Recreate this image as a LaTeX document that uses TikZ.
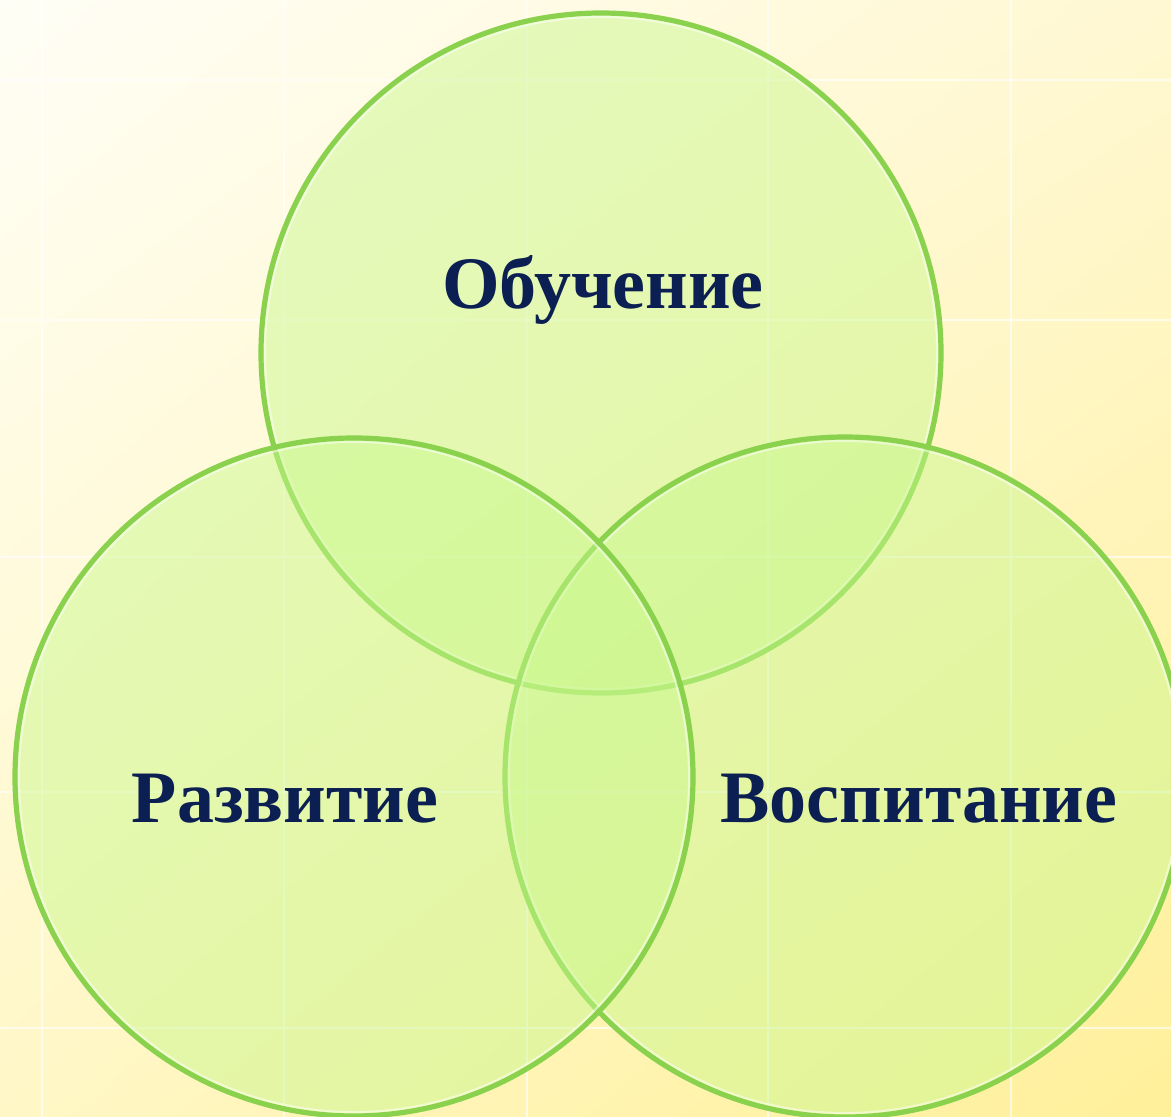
\documentclass[tikz,border=0pt]{standalone}
\usepackage{fontspec}
\setmainfont{Liberation Serif}
\usetikzlibrary{shadings}
\definecolor{bgA}{HTML}{FFFEF6}
\definecolor{bgB}{HTML}{FFF8D2}
\definecolor{bgC}{HTML}{FFF7C6}
\definecolor{bgD}{HTML}{FFF09A}
\definecolor{ringgreen}{HTML}{8AD24E}
\definecolor{fillgreen}{HTML}{C8F88C}
\definecolor{navy}{HTML}{0B1F52}
\begin{document}
\begin{tikzpicture}[x=1pt,y=-1pt,
  ring/.style={draw=ringgreen,line width=5.2pt,fill=fillgreen,fill opacity=0.48},
  gleam/.style={draw=white,line width=2pt,draw opacity=0.5},
  gridline/.style={draw=white,line width=1.5pt,draw opacity=0.65},
  label/.style={font=\fontsize{74}{80}\selectfont\bfseries,text=navy,anchor=base,inner sep=0pt}]
\useasboundingbox (0,0) rectangle (1171,1117);
\shade[upper left=bgA,upper right=bgB,lower left=bgC,lower right=bgD] (0,0) rectangle (1171,1117);
\foreach \gx in {42,284,527,768,1011} \draw[gridline] (\gx,0) -- (\gx,1117);
\foreach \gy in {80,320,557,792,1028} \draw[gridline] (0,\gy) -- (1171,\gy);
% circles
\coordinate (ct) at (601,353);
\coordinate (cr) at (845,777);
\coordinate (cl) at (354,777);
\draw[ring] (ct) circle[radius=340];
\draw[gleam] (ct) circle[radius=336];
\draw[ring] (cr) circle[radius=340];
\draw[gleam] (cr) circle[radius=336];
\draw[ring] (cl) circle[radius=339];
\draw[gleam] (cl) circle[radius=335];
\node[label] (top) at (603,308) {Обучение};
\node[label] (left) at (285,822) {Развитие};
\node[label] (right) at (919,822) {Воспитание};
\end{tikzpicture}
\end{document}
